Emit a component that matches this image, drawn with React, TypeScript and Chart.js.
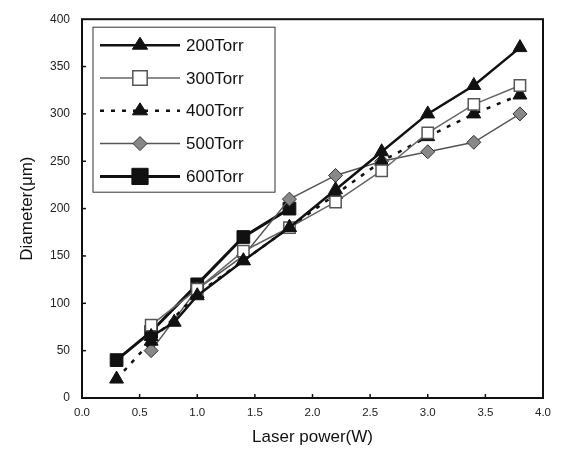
import React, { useEffect, useRef } from "react";
import { Chart, registerables } from "chart.js";

Chart.register(...registerables);

const x200 = [0.6, 0.8, 1.0, 1.4, 1.8, 2.2, 2.6, 3.0, 3.4, 3.8];
const y200 = [65, 80, 108, 145, 180, 220, 260, 300, 330, 370];
const x300 = [0.6, 1.0, 1.4, 1.8, 2.2, 2.6, 3.0, 3.4, 3.8];
const y300 = [77, 115, 155, 180, 207, 240, 280, 310, 330];
const x400 = [0.3, 0.6, 1.0, 1.4, 1.8, 2.2, 2.6, 3.0, 3.4, 3.8];
const y400 = [20, 60, 110, 145, 180, 215, 250, 276, 300, 320];
const x500 = [0.6, 1.0, 1.4, 1.8, 2.2, 2.6, 3.0, 3.4, 3.8];
const y500 = [50, 115, 150, 210, 235, 250, 260, 270, 300];
const x600 = [0.3, 0.6, 1.0, 1.4, 1.8];
const y600 = [40, 70, 120, 170, 200];
const seriesLabels = ["200Torr", "300Torr", "400Torr", "500Torr", "600Torr"];

const zip = (xs: number[], ys: number[]) => xs.map((x, i) => ({ x, y: ys[i] }));

const FONT = "'Liberation Sans', Arial, sans-serif";

const framePlugin = {
  id: "frame",
  afterDraw(chart: any) {
    const { ctx, chartArea: a, scales } = chart;
    ctx.save();
    ctx.strokeStyle = "#111";
    ctx.lineWidth = 2;
    ctx.strokeRect(a.left, a.top, a.right - a.left, a.bottom - a.top);
    ctx.lineWidth = 1.5;
    const xs = scales.x;
    for (let v = 0.5; v < 4; v += 0.5) {
      const px = xs.getPixelForValue(v);
      ctx.beginPath();
      ctx.moveTo(px, a.bottom);
      ctx.lineTo(px, a.bottom - 4);
      ctx.stroke();
    }
    const ys = scales.y;
    for (let v = 50; v < 400; v += 50) {
      const py = ys.getPixelForValue(v);
      ctx.beginPath();
      ctx.moveTo(a.left, py);
      ctx.lineTo(a.left + 4, py);
      ctx.stroke();
    }
    // legend
    const lx = a.left + 11, ly = a.top + 8, lw = 182, lh = 165;
    ctx.lineWidth = 1;
    ctx.strokeStyle = "#333";
    ctx.fillStyle = "#fff";
    ctx.fillRect(lx, ly, lw, lh);
    ctx.strokeRect(lx, ly, lw, lh);
    chart.data.datasets.forEach((ds: any, i: number) => {
      const cy = ly + 18 + i * 32.8;
      ctx.save();
      ctx.strokeStyle = ds.borderColor;
      ctx.lineWidth = ds.borderWidth;
      ctx.setLineDash(ds.borderDash || []);
      ctx.beginPath();
      ctx.moveTo(lx + 7, cy);
      ctx.lineTo(lx + 87, cy);
      ctx.stroke();
      ctx.restore();
      ctx.save();
      ctx.fillStyle = ds.pointBackgroundColor;
      ctx.strokeStyle = ds.pointBorderColor;
      ctx.lineWidth = ds.pointBorderWidth;
      const r = ds.pointRadius;
      const mx = lx + 47;
      ctx.beginPath();
      if (ds.pointStyle === "triangle") {
        const h = r * 1.5;
        ctx.moveTo(mx, cy - r);
        ctx.lineTo(mx + r * 0.95, cy - r + h);
        ctx.lineTo(mx - r * 0.95, cy - r + h);
        ctx.closePath();
      } else if (ds.pointStyle === "rectRot") {
        ctx.moveTo(mx, cy - r);
        ctx.lineTo(mx + r, cy);
        ctx.lineTo(mx, cy + r);
        ctx.lineTo(mx - r, cy);
        ctx.closePath();
      } else {
        const s = r * 0.9;
        ctx.rect(mx - s, cy - s, 2 * s, 2 * s);
      }
      ctx.fill();
      ctx.stroke();
      ctx.restore();
      ctx.fillStyle = "#111";
      ctx.font = `17px ${FONT}`;
      ctx.textBaseline = "middle";
      ctx.textAlign = "left";
      ctx.fillText(ds.label, lx + 93, cy + 1);
    });
    ctx.restore();
  },
};

export default function App() {
  const ref = useRef<HTMLCanvasElement>(null);
  useEffect(() => {
    document.body.style.margin = "0";
    const chart = new Chart(ref.current!, {
      type: "scatter",
      data: {
        datasets: [
          {
            label: seriesLabels[0],
            data: zip(x200, y200),
            showLine: true,
            borderColor: "#111",
            borderWidth: 2.5,
            pointStyle: "triangle",
            pointRadius: 8,
            pointBackgroundColor: "#111",
            pointBorderColor: "#111",
            pointBorderWidth: 1,
          },
          {
            label: seriesLabels[1],
            data: zip(x300, y300),
            showLine: true,
            borderColor: "#666",
            borderWidth: 1.5,
            pointStyle: "rect",
            pointRadius: 8,
            pointBackgroundColor: "#fff",
            pointBorderColor: "#555",
            pointBorderWidth: 1.5,
          },
          {
            label: seriesLabels[2],
            data: zip(x400, y400),
            showLine: true,
            borderColor: "#111",
            borderWidth: 2.5,
            borderDash: [4, 7],
            pointStyle: "triangle",
            pointRadius: 8,
            pointBackgroundColor: "#111",
            pointBorderColor: "#111",
            pointBorderWidth: 1,
          },
          {
            label: seriesLabels[3],
            data: zip(x500, y500),
            showLine: true,
            borderColor: "#555",
            borderWidth: 1.5,
            pointStyle: "rectRot",
            pointRadius: 7,
            pointBackgroundColor: "#888",
            pointBorderColor: "#333",
            pointBorderWidth: 1,
          },
          {
            label: seriesLabels[4],
            data: zip(x600, y600),
            showLine: true,
            borderColor: "#111",
            borderWidth: 3,
            pointStyle: "rect",
            pointRadius: 9,
            pointBackgroundColor: "#111",
            pointBorderColor: "#111",
            pointBorderWidth: 1,
          },
        ],
      },
      options: {
        responsive: false,
        animation: false,
        layout: { padding: { top: 9, right: 18, left: 0, bottom: 0 } },
        plugins: { legend: { display: false }, tooltip: { enabled: false } },
        scales: {
          x: {
            type: "linear",
            min: 0,
            max: 4,
            grid: { display: false, drawTicks: false },
            border: { display: false },
            ticks: {
              stepSize: 0.5,
              padding: 8,
              color: "#222",
              font: { family: FONT, size: 11.5 },
              callback: (v: any) => Number(v).toFixed(1),
            },
            title: {
              display: true,
              text: "Laser power(W)",
              color: "#111",
              font: { family: FONT, size: 17 },
              padding: { top: 6, bottom: 14 },
            },
            afterFit: (s: any) => {
              s.height = 64;
            },
          },
          y: {
            min: 0,
            max: 400,
            grid: { display: false, drawTicks: false },
            border: { display: false },
            ticks: {
              stepSize: 50,
              padding: 12,
              color: "#222",
              font: { family: FONT, size: 12 },
            },
            title: {
              display: true,
              text: "Diameter(μm)",
              color: "#111",
              font: { family: FONT, size: 17 },
              padding: { top: 17, bottom: 6 },
            },
            afterFit: (s: any) => {
              s.width = 82;
            },
          },
        },
      },
      plugins: [framePlugin],
    });
    return () => chart.destroy();
  }, []);
  return <canvas ref={ref} width={561} height={462} />;
}
